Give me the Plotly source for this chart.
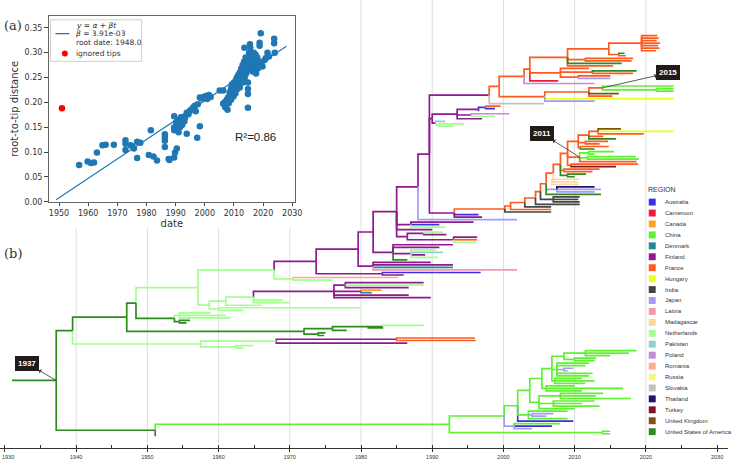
import plotly.graph_objects as go

W, H = 735, 467

# ---------------- regions ----------------
REGION_NAMES = ["Australia", "Cameroon", "Canada", "China", "Denmark", "Finland", "France",
                "Hungary", "India", "Japan", "Latvia", "Madagascar", "Netherlands", "Pakistan",
                "Poland", "Romania", "Russia", "Slovakia", "Thailand", "Turkey",
                "United Kingdom", "United States of America"]
REGION_CODES = ["AU", "CM", "CA", "CN", "DK", "FI", "FR", "HU", "IN", "JP", "LV", "MG", "NL",
                "PK", "PL", "RO", "RU", "SK", "TH", "TR", "UK", "US"]
REGION_COLORS = ["#3d2ee6", "#e8203c", "#ffa31a", "#5cf22e", "#1f8a8f", "#8e1a8e", "#ff5a1f",
                 "#eaff1f", "#444444", "#a59bf5", "#f598a8", "#ffd699", "#a3ff8f", "#8fcfcf",
                 "#c98ad1", "#ffab8f", "#f5f58f", "#c2c2c2", "#1f1473", "#7f1426",
                 "#7f5214", "#2e8a1f"]
COLOR = dict(zip(REGION_CODES, REGION_COLORS))

# ---------------- tree (node = [date, region, children...], tip = (date, region)) ----------------
NODE_2015 = [2013.9, "FR", (2023.9, "CN"), [2021.5, "CN", (2023.9, "CN"), (2023.9, "CN")]]

CLADE_A = [1998.0, "FI",
    [1999.4, "FR",
        [2002.9, "FR",
            [2003.7, "FR",
                [2009.0, "FR",
                    [2014.8, "FR",
                        [2019.4, "FR", (2021.6, "FR"), (2021.8, "FR"), (2021.5, "FR"), (2022.0, "FR"),
                         (2021.7, "FR"), (2021.9, "FR"), (2021.4, "FR")],
                        [2016.2, "FR", (2017.0, "US"), (2017.2, "FR")]],
                    [2011.5, "FR", (2018.2, "FR"), (2018.0, "FR")],
                    (2016.6, "US"),
                    (2015.4, "FR")],
                [2008.0, "FR",
                    (2012.0, "FR"),
                    [2012.5, "FR", (2018.7, "US"), (2018.2, "FR")],
                    [2010.5, "FR", (2015.0, "FR"), (2015.0, "JP")]],
                (2007.7, "CM")],
            (2012.8, "PL")],
        [2005.8, "FR",
            [2012.0, "FR", NODE_2015, (2016.2, "UK"), (2015.3, "FR")],
            (2023.9, "HU"),
            (2012.8, "JP")]],
    (2005.7, "SK")]

CLADE_B = [1990.0, "FI",
    [1993.5, "FI",
        [1996.5, "FI", [1997.5, "AU", (1999.6, "FR"), (1998.8, "AU")], (1996.5, "FI")],
        [1995.5, "FI", (2000.8, "PL"), (1998.8, "NL")],
        (1997.0, "FI")],
    [1990.5, "FI", (1991.8, "PK"), [1991.0, "NL", (1994.5, "NL"), (1993.0, "NL")]]]

NODE_2011 = [2010.7, "FR",
    [2012.0, "CN", (2015.5, "CN"), (2012.8, "CN")],
    [2011.8, "CN", (2018.6, "CN"), (2019.0, "CN")],
    (2018.7, "FR")]

CLADE_C = [2000.2, "FR",
    [2001.0, "FR",
        [2003.0, "FR",
            [2004.5, "FR",
                [2005.2, "FR",
                    [2006.0, "FR",
                        [2007.0, "FR",
                            [2008.0, "FR",
                                [2009.0, "FR",
                                    [2010.5, "FR",
                                        [2012.0, "FR",
                                            [2013.3, "FR", (2016.5, "UK"), (2023.9, "HU"), (2019.7, "FR")],
                                            (2014.0, "FR"),
                                            (2015.8, "US")],
                                        [2011.5, "FR", (2014.7, "FR"), (2013.5, "FR")],
                                        [2010.8, "FR", (2014.8, "FR"), (2012.8, "US")]],
                                    NODE_2011,
                                    [2009.5, "FR", (2018.9, "FR"), (2015.8, "TR")]],
                                [2008.5, "FR", (2013.5, "FR"), (2012.5, "FR")],
                                [2009.0, "US", (2011.6, "US"), (2010.0, "US")]],
                            [2006.8, "MG", (2010.7, "MG"), (2010.5, "MG"), (2010.6, "MG")]],
                        [2007.5, "JP", (2012.8, "TH"), (2013.7, "JP"), (2012.8, "JP")],
                        (2013.7, "US")],
                    [2007.0, "IN", (2010.7, "IN"), (2010.5, "IN"), (2010.7, "IN")]],
                (2010.7, "IN")],
            (2006.7, "IN")],
        (2006.7, "FR")],
    (2006.7, "IN")]

NODE_459 = [1993.1, "FI", CLADE_C, (1996.5, "AU"), (1997.0, "FI")]
NODE_433 = [1989.6, "FI", CLADE_A, CLADE_B, NODE_459]
NODE_421 = [1988.0, "FI", NODE_433, (2001.9, "JP")]
NODE_400 = [1985.0, "FI", NODE_421,
    [1987.0, "FI", (1995.8, "FI"), (1991.0, "AU"), (1991.9, "NL")],
    (1990.0, "FI"),
    [1986.5, "FI",
        [1988.8, "FI", (1991.5, "NL"), (1992.0, "FI")],
        [1993.0, "FI", (1996.3, "FI"), (1996.3, "FR"), (1996.2, "NL")]]]
NODE_377 = [1981.7, "FI", NODE_400,
    [1984.5, "FI", (1992.9, "FI"), (1991.0, "FI"),
        [1987.0, "FI", (1990.5, "NL"), (1991.5, "PK"), (1989.0, "FI"), (1990.8, "NL")],
        (1986.5, "US")]]
NODE_362 = [1979.6, "FI", NODE_377,
    [1981.7, "FI", (1989.8, "FI"), (1992.9, "FI"), (1992.9, "DK"), (2001.9, "LV")]]
NODE_319 = [1973.7, "FI", NODE_362, [1983.0, "FI", (1996.8, "AU"), (1986.0, "FI")]]
NODE_277 = [1967.8, "NL", NODE_319, [1970.5, "NL", (1985.2, "RO"), (1976.0, "NL")]]

CLADE_F = [1976.2, "FI",
    [1977.8, "FI", (1988.8, "FI"), (1988.8, "NL"), (1986.7, "FI")],
    [1980.0, "FI", (1982.9, "CA"), (1981.5, "DK")],
    (1986.7, "FI"),
    (1989.8, "FI")]
NODE_211 = [1958.7, "NL",
    [1961.0, "NL", [1964.9, "NL", CLADE_F, (1969.0, "NL"), (1970.0, "NL")], (1966.0, "NL")],
    [1960.0, "NL", (1979.8, "NL"), (1963.5, "NL")]]
NODE_200 = [1957.1, "NL", NODE_277, NODE_211]
NODE_176 = [1953.8, "US",
    [1954.5, "NL", (1958.9, "NL"), (1961.0, "NL"), (1961.7, "NL")],
    [1954.5, "US", (1956.0, "US"), (1955.5, "US")]]
NODE_137 = [1948.4, "US", NODE_200, NODE_176]
NODE_307 = [1972.0, "US",
    [1976.0, "US", [1983.0, "US", (1988.8, "NL"), (1980.9, "US")], (1978.0, "US")],
    [1974.0, "US", (1975.0, "US"), (1974.8, "US")]]
NODE_128 = [1947.1, "US", NODE_137, NODE_307]
NODE_203 = [1957.5, "NL",
    [1968.1, "NL", [1985.0, "FI", (1996.0, "FR"), (1996.1, "FR")], (1986.5, "FI")],
    [1962.4, "NL", (1964.9, "NL"), (1963.5, "NL")]]
NODE_73 = [1939.5, "US", NODE_128, NODE_203]

CLADE_CN = [1992.4, "CN",
    [2000.1, "CN",
        [2002.0, "CN",
            [2003.7, "CN",
                [2005.4, "CN",
                    [2006.8, "CN",
                        [2008.5, "CN",
                            [2011.5, "CN", (2018.7, "CN"), (2017.6, "CN"), (2015.0, "CN")],
                            [2010.0, "CN", (2013.0, "CN"), (2012.8, "CN")]],
                        [2007.5, "CN", (2012.0, "CN"), (2011.5, "CN"),
                            [2008.5, "JP", (2009.8, "JP"), (2009.0, "JP")], (2012.5, "CN"), (2012.0, "CN")],
                        [2007.2, "CN", (2011.0, "CN"), (2012.8, "CN"), (2011.5, "CN")]],
                    [2006.0, "CN", (2010.0, "CN"), (2016.8, "CN"), (2011.0, "CN")]],
                [2005.0, "CN",
                    [2008.0, "CN", (2014.0, "CN"), (2013.0, "CN"), (2017.9, "CN")],
                    [2007.0, "CN", (2012.8, "CN"), (2011.0, "CN"), (2013.5, "CN")],
                    (2010.0, "CN")]],
            [2003.5, "CN", (2009.0, "CN"), [2004.0, "JP", (2007.0, "JP"), (2006.0, "JP")], (2009.0, "CN")],
            (2009.8, "AU")],
        [2001.5, "JP", (2007.9, "CN"), (2006.8, "AU"), (2004.0, "JP")]],
    [2013.9, "CN", (2015.0, "CN"), (2015.0, "CN")]]

NODE_157 = [1951.1, "US", CLADE_CN, (1951.1, "US")]
ROOT = [1937.2, "US", NODE_73, NODE_157]
ROOT_STEM_START = 1931.0

NODE_LABELS = [(ROOT, "1937", -29, -17), (NODE_2011, "2011", -38, -24), (NODE_2015, "2015", 66, -15)]

# ---------------- root-to-tip regression data ----------------
RTT_DATES = [1956.9, 1959.8, 1960.9, 1962.0, 1963.0, 1964.9, 1966.0, 1968.8,
             1972.8, 1972.8, 1972.8, 1974.5, 1975.1, 1975.7, 1976.8, 1977.9, 1976.8,
             1980.8, 1981.5, 1982.4, 1983.6,
             1986.3, 1986.3, 1986.3, 1986.3, 1987.6, 1987.9, 1989.5, 1989.8, 1990.4,
             1989.5, 1989.5, 1989.5, 1990.2, 1990.5, 1990.8, 1991.0, 1991.2, 1991.5, 1991.5,
             1991.8, 1992.1, 1992.3, 1992.7, 1993.0, 1993.2, 1993.8, 1993.8, 1994.4, 1994.9,
             1995.5, 1996.1, 1996.6, 1996.9, 1997.4, 1997.6, 1998.3, 1998.3, 1998.9, 1999.6,
             2000.3, 2000.8, 2001.4, 2002.0, 2005.1, 2006.3,
             2006.8, 2007.0, 2007.3, 2007.5, 2007.8, 2008.0, 2008.2, 2008.5, 2008.8, 2009.0,
             2009.0, 2009.3, 2009.5, 2009.8, 2010.0, 2010.2, 2010.5, 2010.7, 2011.0, 2011.0,
             2011.3, 2011.5, 2011.7, 2012.0, 2012.0, 2012.3, 2012.5, 2012.7, 2013.0, 2013.0,
             2013.2, 2013.5, 2013.6, 2013.7, 2013.9, 2014.0, 2014.2, 2014.4, 2014.6, 2014.8,
             2014.8, 2014.8, 2014.8, 2015.0, 2015.2, 2015.4, 2015.5, 2015.6, 2015.8, 2016.0,
             2016.2, 2016.4, 2016.6, 2016.8, 2017.0, 2017.2, 2017.4, 2017.6, 2017.8, 2018.0,
             2018.2, 2018.5, 2018.8, 2018.8, 2019.2, 2019.5, 2019.8, 2020.5, 2021.0, 2021.5,
             2022.0, 2023.8, 2023.8, 2024.0, 2007.4, 2006.3]
RTT_DISTS = [0.074, 0.081, 0.078, 0.079, 0.099, 0.114, 0.115, 0.115,
             0.124, 0.117, 0.104, 0.114, 0.112, 0.107, 0.121, 0.119, 0.088,
             0.094, 0.144, 0.091, 0.083,
             0.136, 0.130, 0.123, 0.110, 0.086, 0.084, 0.089, 0.099, 0.107,
             0.144, 0.150, 0.172, 0.160, 0.152, 0.146, 0.140, 0.165, 0.158, 0.150,
             0.170, 0.166, 0.155, 0.171, 0.162, 0.169, 0.179, 0.137, 0.176, 0.183,
             0.186, 0.190, 0.193, 0.182, 0.129, 0.196, 0.152, 0.210, 0.208, 0.211,
             0.213, 0.207, 0.215, 0.211, 0.224, 0.224,
             0.200, 0.190, 0.196, 0.205, 0.185, 0.210, 0.198, 0.220, 0.215, 0.228,
             0.205, 0.236, 0.222, 0.212, 0.240, 0.230, 0.218, 0.245, 0.250, 0.226,
             0.235, 0.255, 0.242, 0.260, 0.230, 0.248, 0.268, 0.255, 0.275, 0.240,
             0.262, 0.282, 0.310, 0.250, 0.270, 0.290, 0.258, 0.280, 0.265, 0.240,
             0.227, 0.217, 0.189, 0.275, 0.300, 0.285, 0.317, 0.310, 0.270, 0.295,
             0.280, 0.262, 0.288, 0.300, 0.272, 0.285, 0.296, 0.258, 0.278, 0.290,
             0.268, 0.282, 0.320, 0.314, 0.339, 0.280, 0.272, 0.285, 0.289, 0.300,
             0.292, 0.328, 0.319, 0.300, 0.200, 0.197]
IGNORED_DATES = [1951.0]
IGNORED_DISTS = [0.188]
RATE_BETA = 3.91e-3
ROOT_DATE = 1948.0
FIT_RANGE = [1949.0, 2028.0]
R2 = 0.86

# ---------------- tree layout ----------------
segments = {c: ([], []) for c in REGION_CODES}
node_pos = {}
counter = [0]


def walk(node):
    if isinstance(node, tuple):
        y = counter[0]
        counter[0] += 1
        return node[0], y
    kids = [walk(c) for c in node[2:]]
    x = node[0]
    y = (kids[0][1] + kids[-1][1]) / 2.0
    for c, (cx, cy) in zip(node[2:], kids):
        xs, ys = segments[c[1]]
        xs += [x, x, cx, None]
        ys += [y, cy, cy, None]
    node_pos[id(node)] = (x, y)
    return x, y


rx, ry = walk(ROOT)
segments[ROOT[1]][0].extend([ROOT_STEM_START, rx, None])
segments[ROOT[1]][1].extend([ry, ry, None])
N = counter[0]

TOP_PX, BOT_PX, AXIS_PX = 36.0, 441.0, 453.0
per = (BOT_PX - TOP_PX) / (N - 1)
y_top_val = -TOP_PX / per
y_bot_val = (AXIS_PX - TOP_PX) / per

fig = go.Figure()
for code in REGION_CODES:
    xs, ys = segments[code]
    if xs:
        fig.add_trace(go.Scatter(x=xs, y=ys, mode="lines", line=dict(color=COLOR[code], width=1.7),
                                 hoverinfo="skip", showlegend=False))

# ---------------- inset scatter ----------------
fig.add_trace(go.Scatter(x=RTT_DATES, y=RTT_DISTS, mode="markers", xaxis="x2", yaxis="y2",
                         marker=dict(color="#1f77b4", size=6.5), showlegend=False, hoverinfo="skip"))
fig.add_trace(go.Scatter(x=IGNORED_DATES, y=IGNORED_DISTS, mode="markers", xaxis="x2", yaxis="y2",
                         marker=dict(color="red", size=6.5), showlegend=False, hoverinfo="skip"))
fit_y = [RATE_BETA * (t - ROOT_DATE) for t in FIT_RANGE]
fig.add_trace(go.Scatter(x=FIT_RANGE, y=fit_y, mode="lines", xaxis="x2", yaxis="y2",
                         line=dict(color="#1f77b4", width=1.2), showlegend=False, hoverinfo="skip"))


def px_x(p):
    return p / W


def px_y(p):
    return 1 - p / H


shapes = []
# grid lines of the tree (hidden under inset picture)
for yr in range(1940, 2030, 10):
    top = 230 if yr <= 1970 else 0
    shapes.append(dict(type="line", xref="x", yref="paper", x0=yr, x1=yr,
                       y0=px_y(top), y1=px_y(AXIS_PX), line=dict(color="#dedede", width=1), layer="below"))

annotations = []
# node labels
for node, text, ax, ay in NODE_LABELS:
    nx, ny = node_pos[id(node)]
    annotations.append(dict(x=nx, y=ny, xref="x", yref="y", ax=ax, ay=ay, text="<b>%s</b>" % text,
                             showarrow=True, arrowside="start", arrowhead=2, arrowsize=0.9,
                             arrowwidth=0.8, arrowcolor="#333333",
                             font=dict(family="Liberation Sans, Arial", size=8, color="white"),
                             bgcolor="#231a1a", bordercolor="#231a1a", borderpad=2))

# region legend
annotations.append(dict(x=px_x(652), y=px_y(192), xref="paper", yref="paper", text="REGION",
                        showarrow=False, xanchor="left", yanchor="middle",
                        font=dict(family="Liberation Sans, Arial", size=7, color="#333333")))
for i, (name, col) in enumerate(zip(REGION_NAMES, REGION_COLORS)):
    cy = 204.3 + i * 11.05
    shapes.append(dict(type="rect", xref="paper", yref="paper", x0=px_x(655), x1=px_x(662),
                       y0=px_y(cy - 3.5), y1=px_y(cy + 3.5), fillcolor=col, line=dict(width=0)))
    annotations.append(dict(x=px_x(669), y=px_y(cy), xref="paper", yref="paper", text=name,
                            showarrow=False, xanchor="left", yanchor="middle",
                            font=dict(family="Liberation Sans, Arial", size=6, color="#333333")))

# inset legend
shapes.append(dict(type="rect", xref="paper", yref="paper", x0=px_x(51), x1=px_x(143),
                   y0=px_y(20), y1=px_y(62), fillcolor="white", line=dict(color="#d0d0d0", width=1),
                   layer="above"))
shapes.append(dict(type="line", xref="paper", yref="paper", x0=px_x(56), x1=px_x(70),
                   y0=px_y(34), y1=px_y(34), line=dict(color="#1f77b4", width=1.3), layer="above"))
shapes.append(dict(type="circle", xref="paper", yref="paper", x0=px_x(62.5), x1=px_x(68.5),
                   y0=px_y(51), y1=px_y(57), fillcolor="red", line=dict(width=0), layer="above"))
for txt, yy in [("<i>y</i> = <i>α</i> + <i>βt</i>", 25.5), ("<i>β</i> = 3.91e-03", 34),
                ("root date: 1948.0", 42.5), ("ignored tips", 54)]:
    annotations.append(dict(x=px_x(75), y=px_y(yy), xref="paper", yref="paper", text=txt,
                            showarrow=False, xanchor="left", yanchor="middle",
                            font=dict(family="DejaVu Sans", size=7.5, color="#333333")))
annotations.append(dict(x=px_x(258), y=px_y(138), xref="paper", yref="paper", text="R²=%.2f" % R2,
                        showarrow=False, xanchor="center", yanchor="middle",
                        font=dict(family="Liberation Sans, Arial", size=11.5, color="#222222")))
annotations.append(dict(x=px_x(2), y=px_y(26), xref="paper", yref="paper", text="(a)",
                        showarrow=False, xanchor="left", yanchor="middle",
                        font=dict(family="DejaVu Serif", size=13, color="#333333")))
annotations.append(dict(x=px_x(2), y=px_y(256), xref="paper", yref="paper", text="(b)",
                        showarrow=False, xanchor="left", yanchor="middle",
                        font=dict(family="DejaVu Serif", size=13, color="#333333")))
# leftmost tree-axis label sits at the page edge
annotations.append(dict(x=px_x(0), y=px_y(462), xref="paper", yref="paper", text="1930",
                        showarrow=False, xanchor="left", yanchor="middle",
                        font=dict(family="Liberation Sans, Arial", size=5.5, color="#333333")))

x_lo = 1930 - 5 / 7.19
x_hi = 1930 + 730 / 7.19

fig.update_layout(
    width=W, height=H, margin=dict(l=0, r=0, t=0, b=0),
    paper_bgcolor="white", plot_bgcolor="white", showlegend=False, hovermode=False,
    xaxis=dict(domain=[0, 1], range=[x_lo, x_hi], tick0=1930, dtick=10, showgrid=False, zeroline=False,
               showline=True, linecolor="#333333", linewidth=1, ticks="outside", ticklen=3,
               tickcolor="#333333", tickfont=dict(family="Liberation Sans, Arial", size=5.5, color="#333333"),
               minor=dict(dtick=5, tick0=1930, ticks="inside", ticklen=3, tickcolor="#333333", showgrid=False)),
    yaxis=dict(domain=[1 - AXIS_PX / H, 1], range=[y_bot_val, y_top_val], visible=False),
    xaxis2=dict(domain=[px_x(49), px_x(298)], anchor="y2", range=[1946.4, 2031.0], tick0=1950, dtick=10,
                showgrid=False, zeroline=False, showline=True, mirror=True, linecolor="#666666", linewidth=1,
                ticks="outside", ticklen=3.5, tickcolor="#444444",
                tickfont=dict(family="DejaVu Sans", size=8, color="#333333"),
                title=dict(text="date", font=dict(family="DejaVu Sans", size=10, color="#333333"), standoff=2)),
    yaxis2=dict(domain=[px_y(204), px_y(16)], anchor="x2", range=[0, 0.374], tick0=0, dtick=0.05,
                tickformat=".2f", showgrid=False, zeroline=False, showline=True, mirror=True,
                linecolor="#666666", linewidth=1, ticks="outside", ticklen=3.5, tickcolor="#444444",
                tickfont=dict(family="DejaVu Sans", size=8, color="#333333"),
                title=dict(text="root-to-tip distance", font=dict(family="DejaVu Sans", size=10, color="#333333"),
                           standoff=4)),
    shapes=shapes, annotations=annotations,
)

fig.write_html("out.html")
